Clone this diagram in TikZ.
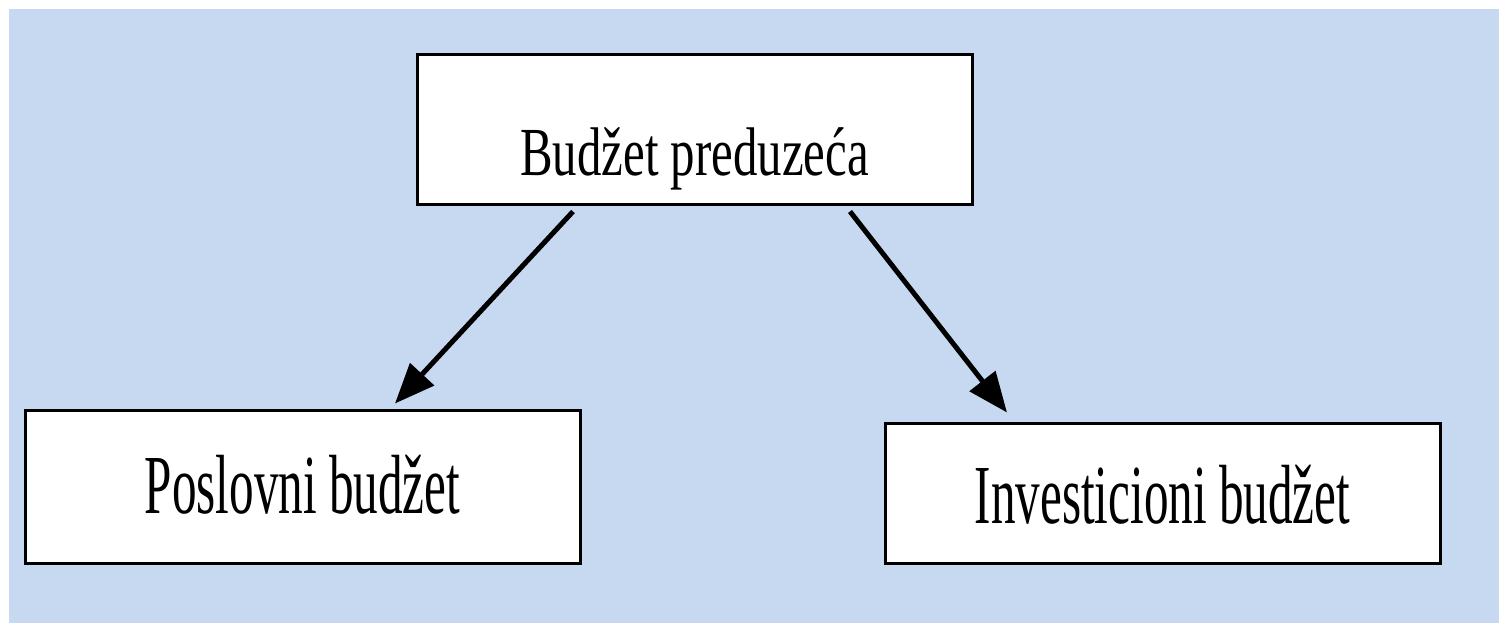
\documentclass[tikz,border=0pt]{standalone}
\usepackage{fontspec}
\setmainfont{Liberation Serif}
\newfontfamily\topfont[FakeStretch=0.71]{Liberation Serif}
\newfontfamily\subfont[FakeStretch=0.585]{Liberation Serif}
\usetikzlibrary{arrows.meta}
\definecolor{bgblue}{HTML}{C6D9F0}

\tikzset{budbox/.style={draw, line width=1.5pt, fill=white, inner sep=0pt, minimum width=277.5pt},
  budarrow/.style={line width=2.5pt, -{Triangle[length=20pt,width=16pt]}}}

\begin{document}
\begin{tikzpicture}[x=0.5pt,y=-0.5pt]
%\draw [help lines] (0,0) grid (1499,623);
\useasboundingbox (0,0) rectangle (1499,623);
\fill [bgblue] (9,9) rectangle (1499,623);

\node [budbox, text height=60.5pt, text depth=14.5pt] (top) at (694.5,129)
  {\topfont\fontsize{34.4pt}{38pt}\selectfont Budžet preduzeća};
\node [budbox, text height=51.5pt, text depth=25pt] (left) at (302.5,486.5)
  {\subfont\fontsize{42pt}{46pt}\selectfont Poslovni budžet};
\node [budbox, text height=50pt, text depth=20pt] (right) at (1162.5,493)
  {\subfont\fontsize{42pt}{46pt}\selectfont Investicioni budžet};

\draw [budarrow] ([xshift=-60.75pt,yshift=-3pt]top.south)--([xshift=46.25pt,yshift=2.5pt]left.north);
\draw [budarrow] ([xshift=77.75pt,yshift=-3pt]top.south)--([xshift=-77.75pt,yshift=4.5pt]right.north);
\end{tikzpicture}
\end{document}
